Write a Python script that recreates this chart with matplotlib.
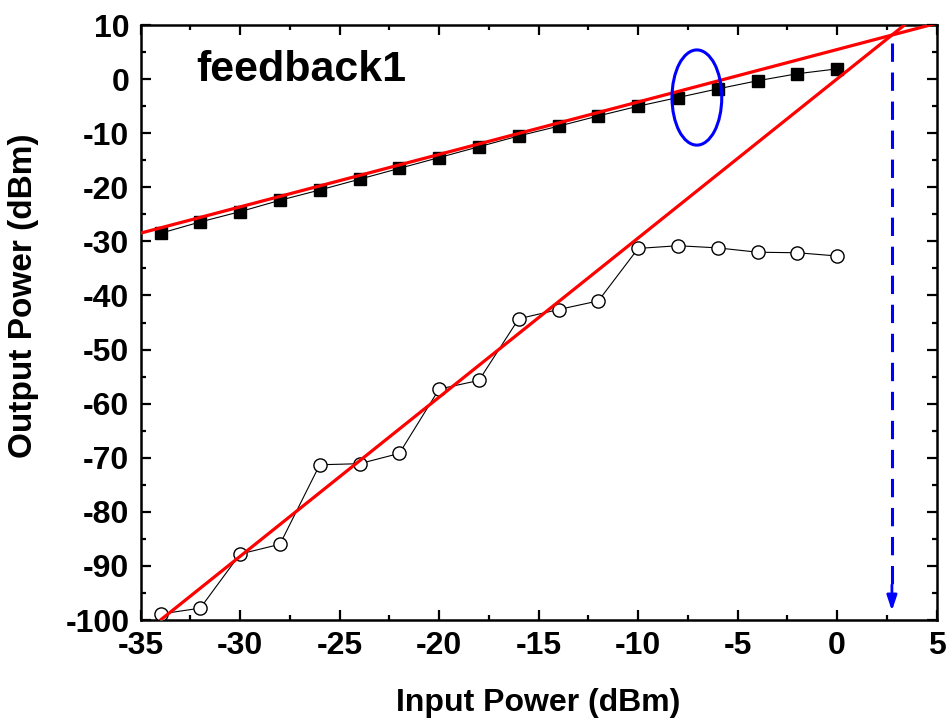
import matplotlib
matplotlib.use("Agg")
import matplotlib.pyplot as plt
from matplotlib.patches import Ellipse
from matplotlib.ticker import MultipleLocator
import numpy as np

plt.rcParams['font.family'] = ['Liberation Sans', 'DejaVu Sans']
plt.rcParams['font.weight'] = 'bold'
plt.rcParams['axes.unicode_minus'] = False

# Measured data
input_power = [-34, -32, -30, -28, -26, -24, -22, -20, -18, -16, -14, -12,
               -10, -8, -6, -4, -2, 0]
fundamental = [-28.5, -26.4, -24.5, -22.4, -20.5, -18.5, -16.5, -14.5, -12.5,
               -10.5, -8.7, -6.8, -5.0, -3.4, -1.8, -0.3, 1.0, 1.9]
imd3 = [-98.9, -97.8, -87.8, -86.0, -71.3, -71.1, -69.2, -57.3, -55.7,
        -44.3, -42.6, -41.0, -31.3, -30.8, -31.2, -32.0, -32.1, -32.7]

# Linear fits (slope, intercept)
fund_fit = (0.97, 5.48)
imd3_fit = (2.943, 0.06)

# Intercept point
iip3 = 2.75

fig = plt.figure(figsize=(9.5, 7.26), dpi=100)
ax = fig.add_axes([0.148, 0.146, 0.838, 0.8195])

# Fit lines
xf = np.array([-35, 5])
ax.plot(xf, fund_fit[0] * xf + fund_fit[1], color='red', lw=2.3, zorder=4)
xi = np.array([-34, 5])
ax.plot(xi, imd3_fit[0] * xi + imd3_fit[1], color='red', lw=2.3, zorder=4)

# Data series
ax.plot(input_power, fundamental, color='black', lw=0.8, marker='s',
        markersize=8.5, markerfacecolor='black', markeredgecolor='black', zorder=3)
ax.plot(input_power, imd3, color='black', lw=0.8, marker='o',
        markersize=9.5, markerfacecolor='white', markeredgecolor='black',
        markeredgewidth=1.0, zorder=3)

# Compression region marker
ax.add_patch(Ellipse((-7.05, -3.4), width=2.5, height=17.6, fill=False,
                     edgecolor='#0000ff', lw=2.2, zorder=5))

# Dashed drop line to the input intercept
y_cross = fund_fit[0] * iip3 + fund_fit[1]
ax.plot([iip3, iip3], [y_cross - 1.5, -95], color='#0000ff', lw=2.2,
        dashes=(6, 3.5), zorder=5)
ax.annotate('', xy=(iip3, -98.3), xytext=(iip3, -93.5),
            arrowprops=dict(arrowstyle='-|>,head_length=0.9,head_width=0.3',
                            color='#0000ff', lw=2.0, shrinkA=0, shrinkB=0),
            zorder=5)

ax.text(-32.2, 1.7, 'feedback1', fontsize=31, fontweight='bold',
        va='center', ha='left')

ax.set_xlim(-35, 5)
ax.set_ylim(-100, 10)
ax.xaxis.set_major_locator(MultipleLocator(5))
ax.xaxis.set_minor_locator(MultipleLocator(2.5))
ax.yaxis.set_major_locator(MultipleLocator(10))
ax.yaxis.set_minor_locator(MultipleLocator(5))
ax.tick_params(which='both', direction='in', top=True, right=True, width=1.6)
ax.tick_params(which='major', length=7, labelsize=23, pad=8)
ax.tick_params(which='minor', length=3.5)
for lab in ax.get_xticklabels() + ax.get_yticklabels():
    lab.set_fontweight('bold')
for sp in ax.spines.values():
    sp.set_linewidth(1.8)

ax.set_xlabel('Input Power (dBm)', fontsize=23, fontweight='bold')
ax.set_ylabel('Output Power (dBm)', fontsize=24, fontweight='bold')
ax.xaxis.set_label_coords(0.5, -0.115)
ax.yaxis.set_label_coords(-0.128, 0.545)

fig.savefig('out.png', dpi=100)
